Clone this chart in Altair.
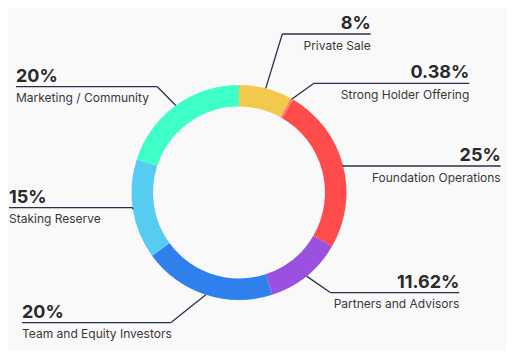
import altair as alt
import pandas as pd

# ---- data ----
categories = ["Private Sale", "Strong Holder Offering", "Foundation Operations",
              "Partners and Advisors", "Team and Equity Investors",
              "Staking Reserve", "Marketing / Community"]
values = [8, 0.38, 25, 11.62, 20, 15, 20]
pct_labels = ["8%", "0.38%", "25%", "11.62%", "20%", "15%", "20%"]
colors = ["#F2C94C", "#FF7F6B", "#FF4B4B", "#9B51E0", "#2F80ED", "#56CCF2", "#3EFFC8"]

# ---- label layout (annotation placement) ----
side = ["right", "right", "right", "right", "left", "left", "left"]
line_y = [26, 75.3, 158, 284.7, 314.7, 199.7, 78.7]
elbow_x = [274.3, 306, 335, 322.7, 162.7, 124.7, 149.3]
end_x = [362.7, 461.3, 492.7, 451.3, 14, 1, 8]

W, H = 499, 343
CX, CY = 231, 184.5
R_OUT, R_IN = 107.5, 86

df = pd.DataFrame({
    "idx": list(range(len(categories))),
    "category": categories,
    "value": values,
    "pct": pct_labels,
    "side": side,
    "line_y": line_y,
    "elbow_x": elbow_x,
    "end_x": end_x,
})

xs = alt.Scale(domain=[0, W], nice=False, zero=False)
ys = alt.Scale(domain=[0, H], nice=False, zero=False, reverse=True)

base = alt.Chart(df)

arcs = base.mark_arc(innerRadius=R_IN, outerRadius=R_OUT, stroke=None).encode(
    theta=alt.Theta("value:Q", stack=True),
    color=alt.Color("category:N", scale=alt.Scale(domain=categories, range=colors), legend=None),
    order=alt.Order("idx:Q"),
    x=alt.value(CX),
    y=alt.value(CY),
)

lead = base.transform_joinaggregate(
    total="sum(value)"
).transform_window(
    cum="sum(value)", sort=[alt.SortField("idx")], frame=[None, 0]
).transform_calculate(
    mid="(datum.cum - datum.value/2) / datum.total * 2 * PI",
    sx=f"{CX} + {R_OUT} * sin(datum.mid)",
    sy=f"{CY} - {R_OUT} * cos(datum.mid)",
)

line_color = "#27324A"
diag = lead.mark_rule(color=line_color, strokeWidth=1.3).encode(
    x=alt.X("sx:Q", scale=xs, axis=None),
    y=alt.Y("sy:Q", scale=ys, axis=None),
    x2="elbow_x:Q",
    y2="line_y:Q",
)
horiz = base.mark_rule(color=line_color, strokeWidth=1.3).encode(
    x=alt.X("elbow_x:Q", scale=xs, axis=None),
    x2="end_x:Q",
    y=alt.Y("line_y:Q", scale=ys, axis=None),
)

FONT = "Inter"

def labels(s, align):
    b = base.transform_filter(alt.datum.side == s)
    p = b.mark_text(align=align, baseline="alphabetic", dy=-5, font=FONT,
                    fontSize=18, fontWeight="bold", color="#2A2A2A").encode(
        x=alt.X("end_x:Q", scale=xs, axis=None),
        y=alt.Y("line_y:Q", scale=ys, axis=None),
        text="pct:N",
    )
    n = b.mark_text(align=align, baseline="alphabetic", dy=15.5, font=FONT,
                    fontSize=12, color="#383838").encode(
        x=alt.X("end_x:Q", scale=xs, axis=None),
        y=alt.Y("line_y:Q", scale=ys, axis=None),
        text="category:N",
    )
    return p + n

chart = alt.layer(
    arcs, diag, horiz, labels("right", "right"), labels("left", "left")
).properties(
    width=W, height=H, padding=0,
    autosize=alt.AutoSizeParams(type="none"),
    background="#F9F9FA",
).configure_view(stroke=None)

chart.save("out.html", embed_options={"renderer": "svg", "actions": False})
